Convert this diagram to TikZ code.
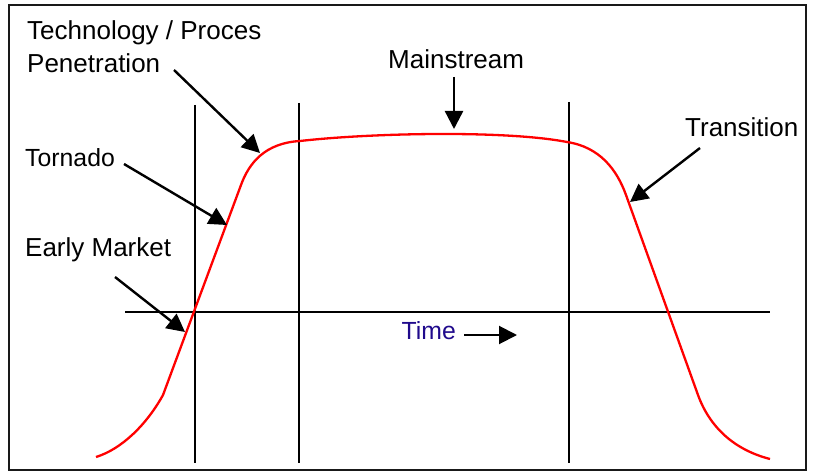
\documentclass[tikz,border=0pt]{standalone}
\usepackage{fontspec}
\setmainfont{Liberation Sans}
\usetikzlibrary{arrows.meta}
\definecolor{timeblue}{RGB}{32,10,140}
\definecolor{curvered}{RGB}{255,0,0}
\begin{document}
\begin{tikzpicture}[x=1pt,y=-1pt,
  lbl/.style={inner sep=0pt,anchor=base west,font=\fontsize{26}{31}\selectfont},
  smalllbl/.style={lbl,font=\fontsize{24.8}{30}\selectfont},
  axisline/.style={line width=2pt,black},
  callout/.style={line width=2.4pt,black,-{Triangle[length=18pt,width=18pt]}},
  curve/.style={line width=2.3pt,curvered,line join=round}]
\useasboundingbox (0,0) rectangle (813,473);
\draw[line width=2.8pt,black!90] (9,5) rectangle (806,470);
% axes
\coordinate (v1t) at (195,105); \coordinate (v1b) at (195,463);
\coordinate (v2t) at (299,103); \coordinate (v2b) at (299,463);
\coordinate (v3t) at (569,102); \coordinate (v3b) at (569,463);
\coordinate (hl) at (125,312); \coordinate (hr) at (770,312);
\draw[axisline] (v1t) -- (v1b);
\draw[axisline] (v2t) -- (v2b);
\draw[axisline] (v3t) -- (v3b);
\draw[axisline] (hl) -- (hr);
% curve
\draw[curve] (96,457) .. controls (122,449) and (147,424) .. (163,395)
  -- (241,185) .. controls (249,163) and (265,143) .. (300,141)
  .. controls (370,133) and (505,130) .. (567,142)
  .. controls (600,147) and (617,170) .. (626,195)
  -- (698,395) .. controls (710,428) and (735,450) .. (770,459);
% labels
\node[lbl] (tech) at (27,40) {Technology / Proces};
\node[lbl] (pen) at (27,72.7) {Penetration};
\node[smalllbl] (tor) at (25,166.5) {Tornado};
\node[lbl] (early) at (25,256.5) {Early Market};
\node[lbl] (main) at (388,69) {Mainstream};
\node[lbl] (trans) at (685,136.5) {Transition};
\node[smalllbl,text=timeblue] (time) at (401.5,339.3) {Time};
% arrow endpoints
\coordinate (penS) at (174,70);  \coordinate (penE) at (260,153);
\coordinate (torS) at (124,164); \coordinate (torE) at (227,225);
\coordinate (earS) at (115,277); \coordinate (earE) at (185,332);
\coordinate (mainS) at (454,77); \coordinate (mainE) at (454,129);
\coordinate (traS) at (700,148); \coordinate (traE) at (630,202);
\coordinate (timS) at (464,335); \coordinate (timE) at (517,335);
\draw[callout] (penS) -- (penE);
\draw[callout] (torS) -- (torE);
\draw[callout] (earS) -- (earE);
\draw[callout] (mainS) -- (mainE);
\draw[callout] (traS) -- (traE);
\draw[callout,line width=2pt] (timS) -- (timE);
\end{tikzpicture}
\end{document}
